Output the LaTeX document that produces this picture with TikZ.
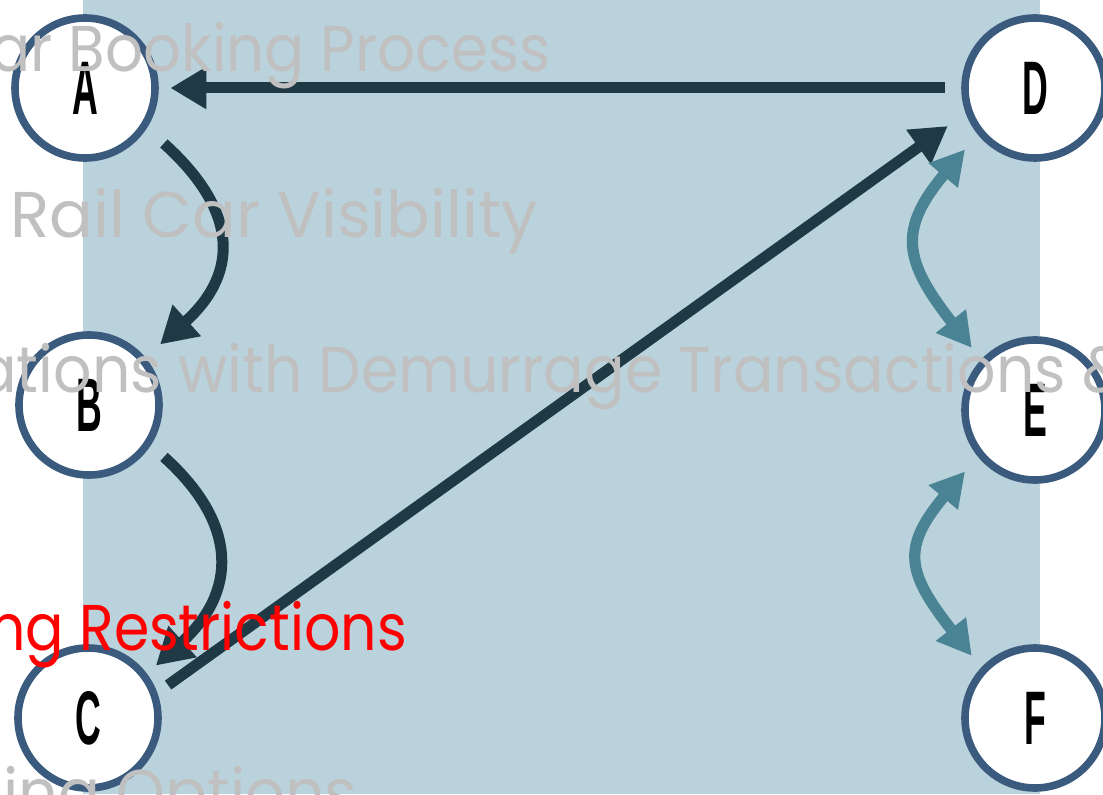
\documentclass[tikz,border=0pt]{standalone}
\usepackage{fontspec}
\usepackage{xcolor}
\usepackage{graphicx}
\usepackage{tikz}
\usetikzlibrary{arrows.meta}
\newfontfamily\slidefont{Poppins}
\newfontfamily\letterfont{Liberation Sans}
\definecolor{panel}{HTML}{B9D2DC}
\definecolor{ring}{HTML}{3A5B7E}
\definecolor{navy}{HTML}{1F3945}
\definecolor{sea}{HTML}{4A8393}
\definecolor{muted}{HTML}{C0C0C0}
\definecolor{alert}{HTML}{FF0000}
\tikzset{
  stage/.style={circle, draw=ring, fill=white, line width=1.9mm, minimum size=35mm, inner sep=0pt,
    font=\letterfont\bfseries\fontsize{54}{54}\selectfont},
  flow/.style={draw=navy, line width=2.75mm, -{Triangle[length=9mm,width=10mm]}},
  link/.style={draw=sea, line width=2.8mm, {Triangle[length=8.5mm,width=9mm]}-{Triangle[length=8.5mm,width=9mm]}},
  slide/.style={font=\slidefont\fontsize{46}{46}\selectfont, text=muted, inner sep=0pt, transform shape},
}

\begin{document}
\begin{tikzpicture}[x=0.25mm,y=0.25mm]
  \useasboundingbox (0,0) rectangle (1103,794);
  \clip (0,0) rectangle (1103,794);
  \fill[panel] (83,0) rectangle (1040,794);
  % stages
  \foreach \n/\x/\y in {A/85/706,B/89/389,C/88/76,D/1035/706,E/1035/384,F/1035/76}
    \node[stage] (\n) at (\x,\y) {\scalebox{0.47}[1]{\n}};
  % left chain and return
  \draw[flow, shorten <=4.1mm, shorten >=2.9mm] (D.west) -- (A.east);
  \draw[flow, shorten <=5.7mm, shorten >=4.9mm] (A.-33) .. controls +(-42:125) and +(42:125) .. (B.40);
  \draw[flow, shorten <=4.4mm, shorten >=3mm] (B.-33) .. controls +(-42:120) and +(42:120) .. (C.37);
  \draw[flow, shorten <=3.3mm, shorten >=5.5mm] (C.20) -- (D.200);
  % right links
  \draw[link, shorten <=4.9mm, shorten >=3.75mm] (D.219) .. controls +(-130:125) and +(128:125) .. (E.137);
  \draw[link, shorten <=4.9mm, shorten >=3.75mm] (E.219) .. controls +(-130:120) and +(128:120) .. (F.137);
  % slide text on top
  \node[slide, xscale=0.92, anchor=base east] (t1) at (551,722) {ar Booking Process};
  \node[slide, anchor=base west] (t2) at (10,556) {Rail Car Visibility};
  \node[slide, xscale=0.93, anchor=base west] (t3) at (-24,401) {ations with Demurrage Transactions \&};
  \node[slide, xscale=0.88, anchor=base east, text=alert] (t4) at (407,144) {ng Restrictions};
  \node[slide, xscale=0.96, anchor=base west] (t5) at (3,-21) {ing Options};
\end{tikzpicture}
\end{document}
